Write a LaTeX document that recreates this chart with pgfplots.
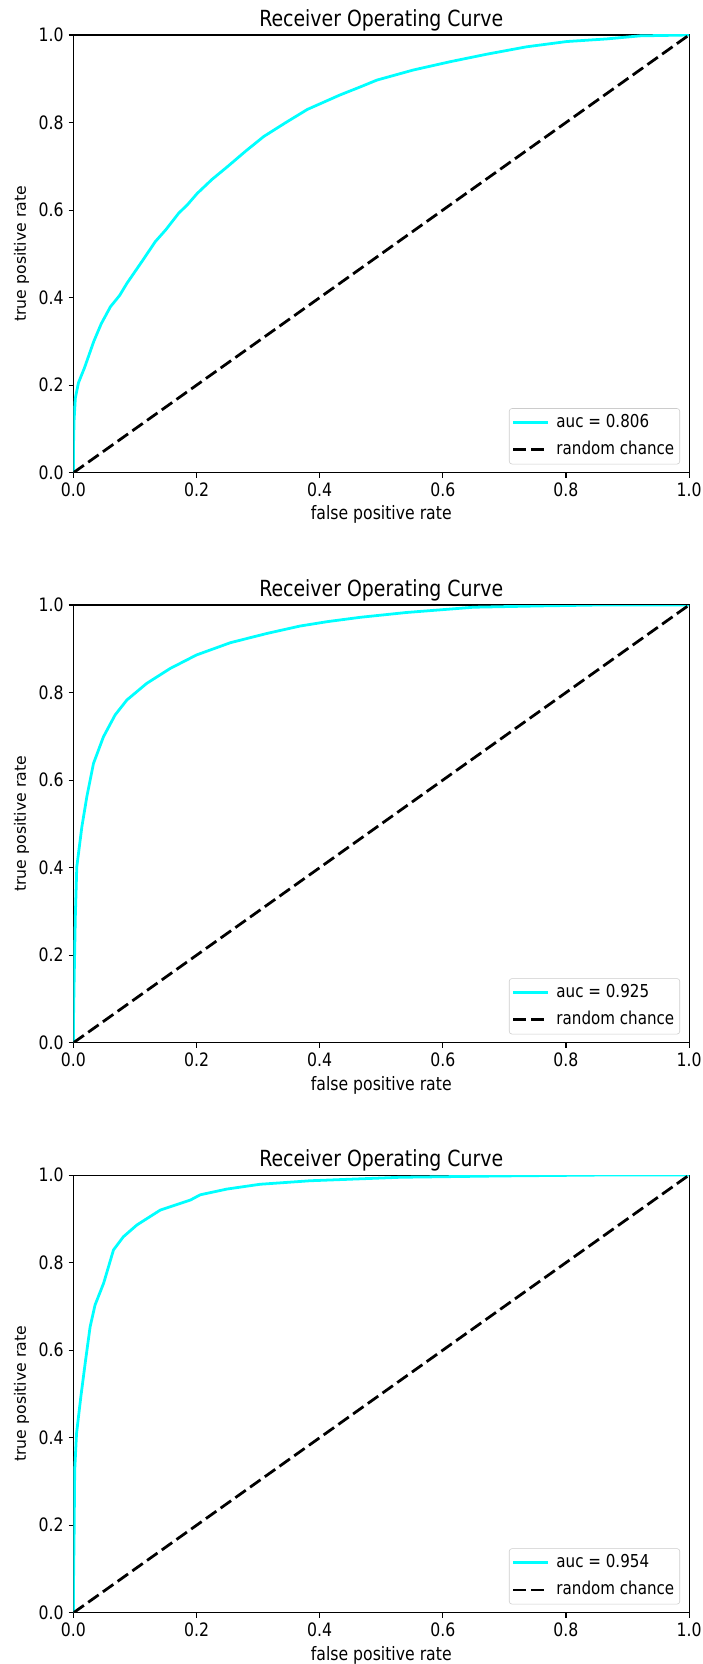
\documentclass[border=0pt]{standalone}
\usepackage{fontspec}
\setmainfont{DejaVu Sans}
\newfontfamily\tallfont[FakeStretch=0.85]{DejaVu Sans}
\usepackage{pgfplots}
\pgfplotsset{compat=1.18}
\definecolor{aqua}{RGB}{0,255,255}
\pgfplotsset{
  rocstyle/.style={
    scale only axis, width=443.2pt, height=315.1pt,
    xmin=0, xmax=1, ymin=0, ymax=1,
    xtick={0,0.2,0.4,0.6,0.8,1}, ytick={0,0.2,0.4,0.6,0.8,1},
    /pgf/number format/.cd, fixed, fixed zerofill, precision=1, assume math mode=true, /pgfplots/.cd,
    tick label style={font=\tallfont\fontsize{13.3}{15}\selectfont},
    xlabel style={font=\tallfont\fontsize{13.3}{15}\selectfont},
    ylabel style={font=\fontsize{11.3}{13}\selectfont},
    tick align=outside, major tick length=3.5pt,
    tick style={black, line width=0.8pt},
    xtick pos=left, ytick pos=left,
    axis line style={line width=0.8pt},
    title style={font=\tallfont\fontsize{16}{18}\selectfont, anchor=base, at={(0.5,1)}},
    title={Receiver Operating Curve},
    xlabel={false positive rate}, ylabel={true positive rate},
    legend cell align=left,
    legend image code/.code={\draw[##1] (0pt,0pt) -- (25pt,0pt);},
    legend style={at={(1,0)}, xshift=-6.5pt, yshift=6pt, anchor=south east,
      draw={rgb,255:red,204;green,204;blue,204}, rounded corners=2pt,
      fill=white, fill opacity=0.8, text opacity=1,
      font=\tallfont\fontsize{12.8}{15}\selectfont, inner xsep=2pt, inner ysep=4.5pt,
      row sep=8pt, column sep=3pt,
      nodes={inner ysep=0pt, inner xsep=2pt, text height=9pt, text depth=2.5pt}},
  },
  roc/.style={aqua, line width=2pt, line join=round},
  chance/.style={black, line width=2pt, dash pattern=on 9.2pt off 3.8pt},
}
\begin{document}
\begin{tikzpicture}
\useasboundingbox (-52.9pt,-857.7pt) rectangle (453.2pt,340.3pt);
\begin{axis}[rocstyle, at={(0pt,0pt)}, anchor=origin]
\addplot[roc] coordinates {(0,0) (0,0.06) (0.001,0.12) (0.003,0.17) (0.008,0.205) (0.018,0.24) (0.033,0.30) (0.045,0.34) (0.06,0.379) (0.075,0.405) (0.087,0.433) (0.11,0.48) (0.133,0.528) (0.15,0.555) (0.171,0.593) (0.185,0.612) (0.201,0.638) (0.225,0.67) (0.25,0.699) (0.28,0.735) (0.309,0.768) (0.345,0.80) (0.38,0.830) (0.433,0.863) (0.467,0.882) (0.493,0.897) (0.552,0.920) (0.612,0.939) (0.671,0.956) (0.736,0.973) (0.801,0.985) (0.866,0.991) (0.92,0.998) (1,1)};
\addlegendentry{auc = 0.806}
\addplot[chance] coordinates {(0,0) (1,1)};
\addlegendentry{random chance}
\end{axis}
\begin{axis}[rocstyle, at={(0pt,-410.4pt)}, anchor=origin]
\addplot[roc] coordinates {(0,0) (0,0.05) (0.001,0.136) (0.003,0.288) (0.0054,0.402) (0.0136,0.493) (0.0217,0.562) (0.0325,0.638) (0.0487,0.699) (0.0677,0.749) (0.0867,0.783) (0.119,0.821) (0.157,0.855) (0.2,0.886) (0.255,0.914) (0.314,0.935) (0.368,0.952) (0.412,0.962) (0.466,0.972) (0.541,0.983) (0.65,0.995) (0.758,0.998) (0.85,1) (1,1)};
\addlegendentry{auc = 0.925}
\addplot[chance] coordinates {(0,0) (1,1)};
\addlegendentry{random chance}
\end{axis}
\begin{axis}[rocstyle, at={(0pt,-820.8pt)}, anchor=origin]
\addplot[roc] coordinates {(0,0) (0,0.06) (0.001,0.174) (0.002,0.326) (0.005,0.41) (0.012,0.494) (0.019,0.57) (0.027,0.653) (0.035,0.703) (0.049,0.753) (0.065,0.829) (0.081,0.859) (0.103,0.886) (0.141,0.920) (0.19,0.943) (0.206,0.955) (0.249,0.968) (0.303,0.979) (0.384,0.987) (0.531,0.995) (0.693,0.998) (0.85,1) (1,1)};
\addlegendentry{auc = 0.954}
\addplot[chance] coordinates {(0,0) (1,1)};
\addlegendentry{random chance}
\end{axis}
\end{tikzpicture}
\end{document}
